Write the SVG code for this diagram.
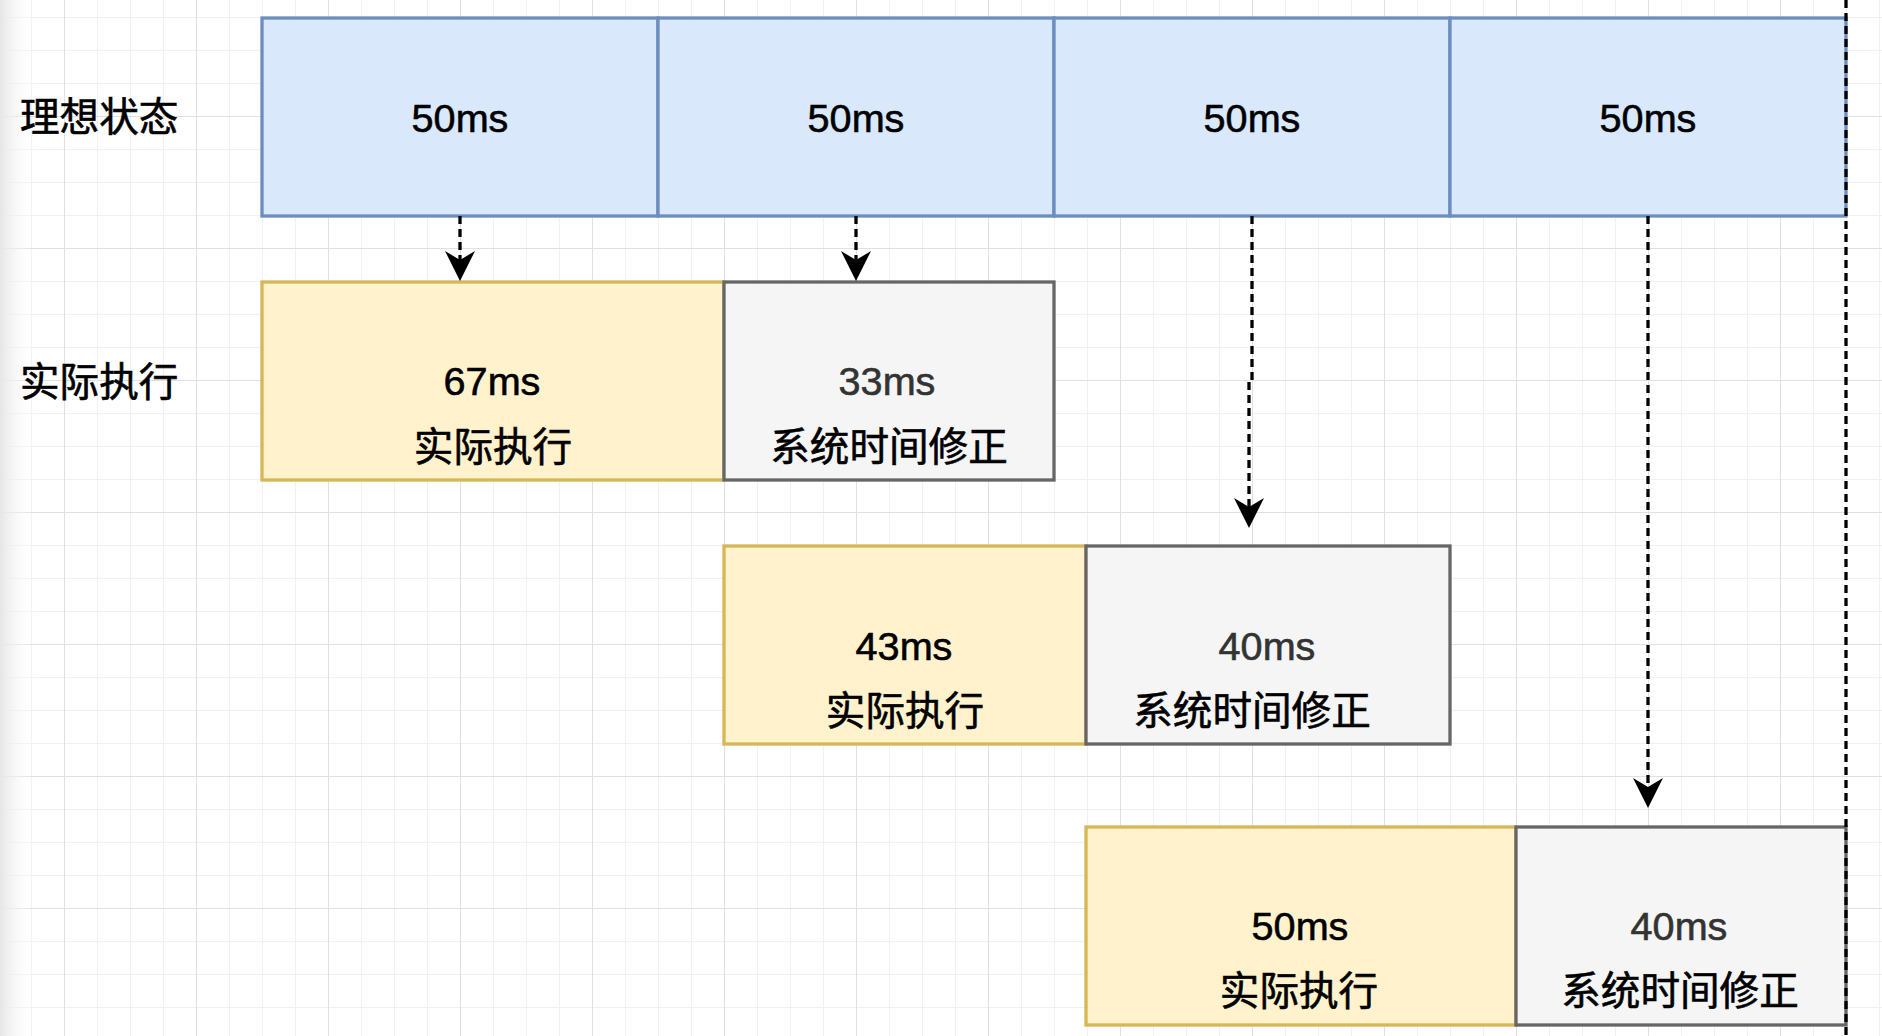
<svg xmlns="http://www.w3.org/2000/svg" width="1882" height="1036" viewBox="0 0 1882 1036">
<defs>
<pattern id="minor" x="64" y="17" width="33" height="33" patternUnits="userSpaceOnUse">
<path d="M0,0 V33 M0,0 H33" fill="none" stroke="#f1f1f1" stroke-width="2"/>
</pattern>
<pattern id="major" x="64" y="116" width="132" height="132" patternUnits="userSpaceOnUse">
<path d="M0,0 V132 M0,0 H132" fill="none" stroke="#e0e0e0" stroke-width="2"/>
</pattern>
<linearGradient id="edge" x1="0" y1="0" x2="1" y2="0">
<stop offset="0" stop-color="#e6e6e6"/>
<stop offset="1" stop-color="#ffffff" stop-opacity="0"/>
</linearGradient>
<marker id="arr" viewBox="0 0 30 30" refX="9" refY="15" markerWidth="30" markerHeight="30" markerUnits="userSpaceOnUse" orient="auto">
<path d="M0,0 L30,15 L0,30 L9,15 Z" fill="#000"/>
</marker>
<style>
.blue{fill:#dae8fc;stroke:#6c8ebf;stroke-width:3.3}
.yel{fill:#fff2cc;stroke:#d6b656;stroke-width:3.3}
.gray{fill:#f5f5f5;stroke:#666666;stroke-width:3.3}
text{font-family:"Liberation Sans","Noto Sans CJK SC",sans-serif;font-size:39.6px;text-anchor:middle;fill:#000;stroke:#000;stroke-width:0.6}
.g{fill:#333333;stroke:#333333}
.lab{text-anchor:start}
.conn{fill:none;stroke:#000;stroke-width:3.3;stroke-dasharray:8 5}
</style>
</defs>
<rect width="1882" height="1036" fill="#ffffff"/>
<rect width="1882" height="1036" fill="url(#minor)"/>
<rect width="1882" height="1036" fill="url(#major)"/>
<rect width="34" height="1036" fill="url(#edge)"/>

<g id="label-ideal"><text class="lab" x="20" y="131">理想状态</text></g>
<g id="label-actual"><text class="lab" x="20" y="396">实际执行</text></g>

<g id="ideal-1"><rect class="blue" x="262" y="18" width="396" height="198"/><text x="460" y="132">50ms</text></g>
<g id="ideal-2"><rect class="blue" x="658" y="18" width="396" height="198"/><text x="856" y="132">50ms</text></g>
<g id="ideal-3"><rect class="blue" x="1054" y="18" width="396" height="198"/><text x="1252" y="132">50ms</text></g>
<g id="ideal-4"><rect class="blue" x="1450" y="18" width="396" height="198"/><text x="1648" y="132">50ms</text></g>

<g id="exec-1"><rect class="yel" x="262" y="282" width="462" height="198"/><text x="492" y="395">67ms</text><text x="493" y="461">实际执行</text></g>
<g id="fix-1"><rect class="gray" x="724" y="282" width="330" height="198"/><text class="g" x="887" y="395">33ms</text><text x="889" y="461">系统时间修正</text></g>

<g id="exec-2"><rect class="yel" x="724" y="546" width="362" height="198"/><text x="904" y="660">43ms</text><text x="905" y="725">实际执行</text></g>
<g id="fix-2"><rect class="gray" x="1086" y="546" width="364" height="198"/><text class="g" x="1267" y="660">40ms</text><text x="1252" y="725">系统时间修正</text></g>

<g id="exec-3"><rect class="yel" x="1086" y="827" width="430" height="198"/><text x="1300" y="940">50ms</text><text x="1299" y="1005">实际执行</text></g>
<g id="fix-3"><rect class="gray" x="1516" y="827" width="330" height="198"/><text class="g" x="1679" y="940">40ms</text><text x="1680" y="1005">系统时间修正</text></g>

<g id="connectors">
<path class="conn" d="M460,216 V260" marker-end="url(#arr)"/>
<path class="conn" d="M856,216 V260" marker-end="url(#arr)"/>
<path class="conn" d="M1252,216 V380 H1249 V507" marker-end="url(#arr)"/>
<path class="conn" d="M1648,216 V787" marker-end="url(#arr)"/>
<path class="conn" d="M1846,0 V1036" stroke-dasharray="10 6"/>
</g>
</svg>
